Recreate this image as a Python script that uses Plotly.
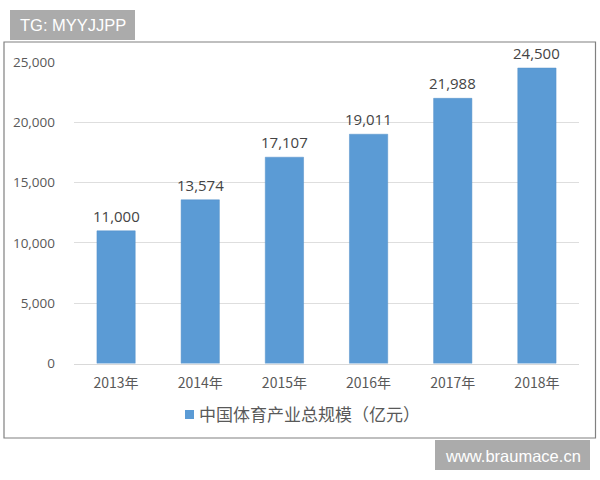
import plotly.graph_objects as go

years = ["2013年", "2014年", "2015年", "2016年", "2017年", "2018年"]
values = [11000, 13574, 17107, 19011, 21988, 24500]
value_labels = ["11,000", "13,574", "17,107", "19,011", "21,988", "24,500"]
series_name = "中国体育产业总规模（亿元）"
y_ticks = [0, 5000, 10000, 15000, 20000, 25000]
y_tick_labels = ["0", "5,000", "10,000", "15,000", "20,000", "25,000"]

W, H = 600, 480
FONT = "Noto Sans CJK SC, Noto Sans, sans-serif"

fig = go.Figure()
fig.add_trace(go.Bar(
    x=years, y=values, name=series_name, width=0.455,
    marker=dict(color="#5B9BD5", line=dict(color="#5591c8", width=0.5)),
    showlegend=False,
))

value_annotations = [
    dict(text=label, x=year, y=value, xref="x", yref="y", yshift=15,
         showarrow=False, xanchor="center", yanchor="middle",
         font=dict(size=15, color="#444444", family="Open Sans, sans-serif"))
    for year, value, label in zip(years, values, value_labels)
]

fig.update_layout(
    width=W, height=H, margin=dict(l=0, r=0, t=0, b=0),
    paper_bgcolor="white", plot_bgcolor="white",
    font=dict(family=FONT, color="#595959"),
    xaxis=dict(domain=[74/W, 579/W], showgrid=False, ticks="", showline=True,
               linecolor="#D9D9D9", linewidth=1, tickfont=dict(size=14, color="#595959"),
               ticklabelstandoff=7, automargin=False, fixedrange=True),
    yaxis=dict(domain=[(H-363.5)/H, (H-62)/H], range=[0, 25000], tickvals=y_ticks,
               ticktext=y_tick_labels, showgrid=True, gridcolor="#DEDEDE", gridwidth=1,
               zeroline=False, ticks="", showline=False, ticklabelstandoff=18,
               tickfont=dict(size=13.5, color="#595959", family="Open Sans, sans-serif"),
               automargin=False, fixedrange=True),
    showlegend=False,
    shapes=[
        dict(type="rect", xref="paper", yref="paper", x0=4/W, x1=595.5/W,
             y0=(H-438)/H, y1=(H-42)/H, line=dict(color="#808080", width=1.2),
             fillcolor="rgba(0,0,0,0)", layer="below"),
        dict(type="rect", xref="paper", yref="paper", x0=10/W, x1=135/W,
             y0=(H-40)/H, y1=(H-10)/H, line=dict(width=0), fillcolor="#ABABAB"),
        dict(type="rect", xref="paper", yref="paper", x0=435/W, x1=590/W,
             y0=(H-470)/H, y1=(H-440)/H, line=dict(width=0), fillcolor="#ABABAB"),
        dict(type="rect", xref="paper", yref="paper", x0=185/W, x1=194/W,
             y0=(H-419)/H, y1=(H-410)/H, line=dict(width=0), fillcolor="#5B9BD5"),
    ],
    annotations=value_annotations + [
        dict(text="TG: MYYJJPP", xref="paper", yref="paper", x=72.5/W, y=(H-25)/H,
             showarrow=False, xanchor="center", yanchor="middle",
             font=dict(size=16.5, color="white", family="Liberation Sans, sans-serif")),
        dict(text="www.braumace.cn", xref="paper", yref="paper", x=512.5/W, y=(H-455.5)/H,
             showarrow=False, xanchor="center", yanchor="middle",
             font=dict(size=16.5, color="white", family="Liberation Sans, sans-serif")),
        dict(text=series_name, xref="paper", yref="paper", x=197/W, y=(H-413)/H,
             showarrow=False, xanchor="left", yanchor="middle",
             font=dict(size=17, color="#595959")),
    ],
)
fig.write_html("out.html", config=dict(displayModeBar=False),
               post_script="document.body.style.margin='0';")
